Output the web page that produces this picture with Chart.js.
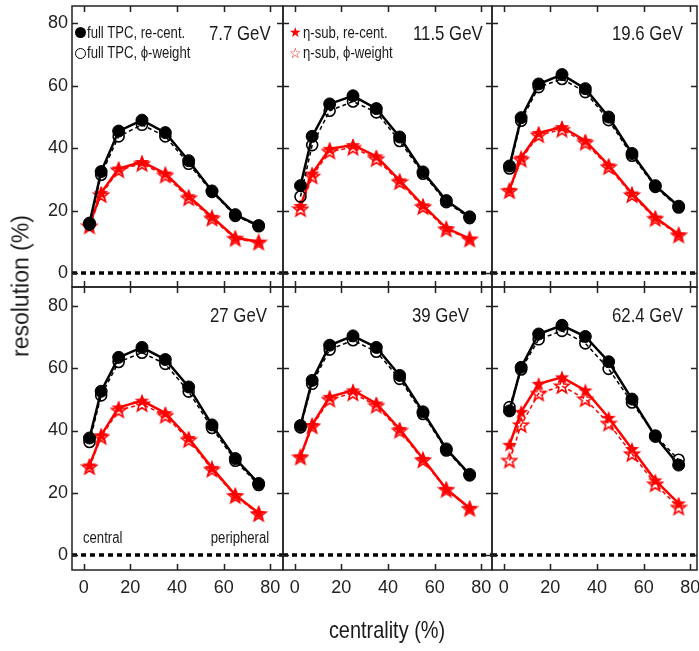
<!DOCTYPE html>
<html>
<head>
<meta charset="utf-8">
<script src="https://cdn.jsdelivr.net/npm/chart.js@4.4.1/dist/chart.umd.min.js"></script>
<style>
body{margin:0;background:#fff;}
#wrap{position:relative;width:699px;height:651px;overflow:hidden;background:#fff;
  font-family:'Liberation Sans',Arial,sans-serif;color:#1a1a1a;}
#wrap canvas{position:absolute;left:0;top:0;}
.t{position:absolute;white-space:nowrap;line-height:1;z-index:5;transform-origin:left top;}
.gev{font-size:21px;transform:scaleX(0.8);}
.leg{font-size:16px;transform:scaleX(0.82);}
.dot{position:absolute;z-index:5;border-radius:50%;box-sizing:border-box;}
.star{position:absolute;z-index:5;line-height:1;font-family:'DejaVu Sans',sans-serif;font-size:14px;color:#ff0000;}
</style>
</head>
<body>
<div id="wrap">
  <div class="t" style="left:21px;top:286px;transform:translate(-50%,-50%) rotate(-90deg);transform-origin:center;font-size:23px;">resolution (%)</div>
  <div class="t" style="left:387px;top:618px;transform:translateX(-50%) scaleX(0.83);transform-origin:center top;font-size:24px;">centrality (%)</div>

  <div class="t gev" style="left:209px;top:22px;">7.7 GeV</div>
  <div class="t gev" style="left:413px;top:22px;">11.5 GeV</div>
  <div class="t gev" style="left:612px;top:22px;">19.6 GeV</div>
  <div class="t gev" style="left:210px;top:304px;">27 GeV</div>
  <div class="t gev" style="left:412px;top:304px;">39 GeV</div>
  <div class="t gev" style="left:612px;top:304px;">62.4 GeV</div>

  <div class="dot" style="left:75px;top:27px;width:11px;height:11px;background:#000;"></div>
  <div class="dot" style="left:75px;top:48px;width:11px;height:11px;border:1.5px solid #000;"></div>
  <div class="t leg" style="left:87px;top:25px;">full TPC, re-cent.</div>
  <div class="t leg" style="left:87px;top:45px;">full TPC, ϕ-weight</div>

  <div class="star" style="left:289px;top:25px;">★</div>
  <div class="star" style="left:289px;top:46px;">☆</div>
  <div class="t leg" style="left:303px;top:25px;">η-sub, re-cent.</div>
  <div class="t leg" style="left:303px;top:45px;">η-sub, ϕ-weight</div>

  <div class="t leg" style="left:83px;top:530px;">central</div>
  <div class="t leg" style="right:430px;top:530px;transform-origin:right top;">peripheral</div>
</div>
<script>
// centrality bin centres (%)
const centrality = [2.5, 7.5, 15, 25, 35, 45, 55, 65, 75];
const energies = ['7.7 GeV', '11.5 GeV', '19.6 GeV', '27 GeV', '39 GeV', '62.4 GeV'];
const xTicks = [0, 20, 40, 60, 80];
const yTicks = [0, 20, 40, 60, 80];

// full TPC, re-centering (filled circles), one row per energy
const tpcRecent = [
  [16.0, 32.5, 45.5, 49.0, 45.0, 36.0, 26.3, 18.7, 15.2],
  [28.0, 43.8, 54.2, 56.8, 52.7, 43.6, 32.4, 23.2, 18.0],
  [34.3, 49.8, 60.6, 63.6, 59.1, 50.0, 38.3, 28.0, 21.4],
  [37.6, 52.6, 63.5, 66.7, 62.8, 54.0, 41.8, 31.0, 23.0],
  [41.6, 56.1, 67.4, 70.4, 66.7, 57.7, 46.0, 34.1, 25.9],
  [46.3, 60.3, 71.0, 73.8, 70.2, 62.1, 50.1, 38.1, 28.9]
];
// full TPC, phi-weight (open circles)
const tpcPhiW = [
  [15.5, 31.5, 43.8, 47.5, 43.8, 35.0, 26.0, 18.3, 15.0],
  [24.5, 41.0, 52.0, 55.0, 51.5, 42.3, 31.8, 22.7, 17.6],
  [33.5, 48.8, 59.6, 62.2, 58.0, 49.0, 37.6, 27.6, 21.0],
  [36.3, 51.3, 62.0, 65.0, 61.4, 52.5, 40.8, 30.3, 22.5],
  [41.0, 55.0, 66.0, 69.0, 65.3, 56.6, 45.3, 33.6, 25.6],
  [47.5, 59.6, 69.3, 72.0, 68.0, 59.8, 49.0, 38.4, 30.6]
];
// eta-sub, re-centering (filled stars)
const etaRecent = [
  [15.5, 25.7, 33.5, 35.6, 31.9, 24.6, 18.0, 11.3, 10.0],
  [21.5, 31.9, 39.8, 41.0, 37.4, 29.7, 21.7, 14.4, 11.0],
  [26.7, 37.0, 44.9, 46.8, 42.4, 34.5, 25.5, 17.8, 12.4],
  [28.8, 38.5, 47.4, 49.6, 45.6, 37.6, 28.0, 19.3, 13.5],
  [31.7, 41.8, 50.8, 52.9, 48.7, 40.5, 30.9, 21.2, 15.1],
  [35.4, 46.0, 55.0, 57.1, 52.9, 44.1, 34.1, 24.0, 16.6]
];
// eta-sub, phi-weight (open stars)
const etaPhiW = [
  [15.0, 25.0, 33.0, 35.0, 31.3, 24.0, 17.5, 11.0, 9.8],
  [20.5, 31.0, 39.0, 40.2, 36.6, 29.2, 21.2, 14.0, 10.8],
  [26.3, 36.4, 44.2, 46.0, 41.8, 34.0, 25.0, 17.4, 12.1],
  [28.3, 38.0, 46.5, 48.5, 44.8, 37.0, 27.5, 19.0, 13.2],
  [31.4, 41.4, 50.0, 52.0, 48.0, 40.0, 30.5, 21.0, 14.9],
  [30.4, 41.8, 51.9, 54.3, 50.1, 42.3, 32.5, 22.8, 15.3]
];

const RED = '#ff0000';
const W = 699, H = 651;
// panel boxes in page pixels
const cols = [[72, 283], [283, 492], [492, 697]];
const rows = [[6, 287], [287, 570]];
const yRange = [[-4.5, 85.6], [-4.8, 86.1]];
const pxPerX = 2.333;

function makeStar(filled) {
  const c = document.createElement('canvas');
  c.width = 18; c.height = 18;
  const g = c.getContext('2d');
  g.beginPath();
  for (let i = 0; i < 10; i++) {
    const r = i % 2 ? 3.2 : 7.6;
    const a = -Math.PI / 2 + i * Math.PI / 5;
    g.lineTo(9 + r * Math.cos(a), 9.6 + r * Math.sin(a));
  }
  g.closePath();
  if (filled) { g.fillStyle = RED; g.fill(); }
  else { g.strokeStyle = RED; g.lineWidth = 1.6; g.stroke(); }
  return c;
}
const starFull = makeStar(true);
const starOpen = makeStar(false);

// frame, inward ticks and dashed zero line
const framePlugin = {
  id: 'frame',
  beforeDatasetsDraw(chart) {
    const { ctx, chartArea: a, scales: { y } } = chart;
    const y0 = y.getPixelForValue(0);
    ctx.save();
    ctx.beginPath();
    ctx.setLineDash([5, 4]);
    ctx.lineWidth = 3.5;
    ctx.strokeStyle = '#000';
    ctx.moveTo(a.left, y0); ctx.lineTo(a.right, y0);
    ctx.stroke();
    ctx.restore();
  },
  afterDraw(chart) {
    const { ctx, chartArea: a, scales: { x, y } } = chart;
    ctx.save();
    ctx.strokeStyle = '#222';
    ctx.lineWidth = 1.5;
    ctx.strokeRect(a.left, a.top, a.right - a.left, a.bottom - a.top);
    ctx.beginPath();
    xTicks.forEach(v => {
      const px = Math.round(x.getPixelForValue(v)) + 0.5;
      ctx.moveTo(px, a.bottom); ctx.lineTo(px, a.bottom - 6);
      ctx.moveTo(px, a.top); ctx.lineTo(px, a.top + 6);
    });
    yTicks.forEach(v => {
      const py = Math.round(y.getPixelForValue(v)) + 0.5;
      ctx.moveTo(a.left, py); ctx.lineTo(a.left + 6, py);
      ctx.moveTo(a.right, py); ctx.lineTo(a.right - 6, py);
    });
    ctx.stroke();
    ctx.restore();
  }
};

const wrap = document.getElementById('wrap');
const tickFont = { family: "'Liberation Sans',Arial,sans-serif", size: 18 };

energies.forEach((e, i) => {
  const col = i % 3, row = Math.floor(i / 3);
  const [l, r] = cols[col];
  const [t, b] = rows[row];
  const leftCol = col === 0, bottomRow = row === 1;
  const yW = leftCol ? 40 : 0;
  const xH = bottomRow ? 36 : 0;

  const cv = document.createElement('canvas');
  cv.width = W; cv.height = H;
  cv.style.width = W + 'px'; cv.style.height = H + 'px';
  wrap.appendChild(cv);

  const pts = arr => centrality.map((c, k) => ({ x: c, y: arr[i][k] }));

  new Chart(cv, {
    type: 'line',
    data: {
      datasets: [
        { label: 'full TPC, re-cent.', data: pts(tpcRecent), borderColor: '#000', backgroundColor: '#000',
          borderWidth: 2.5, pointRadius: 6, pointBorderWidth: 1, pointStyle: 'circle' },
        { label: 'full TPC, phi-weight', data: pts(tpcPhiW), borderColor: '#000', backgroundColor: 'rgba(255,255,255,0)',
          borderWidth: 1.5, borderDash: [4, 3], pointRadius: 5.5, pointBorderWidth: 1.6, pointStyle: 'circle' },
        { label: 'eta-sub, re-cent.', data: pts(etaRecent), borderColor: RED, backgroundColor: RED,
          borderWidth: 2.5, pointStyle: starFull },
        { label: 'eta-sub, phi-weight', data: pts(etaPhiW), borderColor: RED, backgroundColor: RED,
          borderWidth: 1.5, borderDash: [4, 3], pointStyle: starOpen }
      ]
    },
    options: {
      responsive: false,
      animation: false,
      devicePixelRatio: 1,
      layout: { autoPadding: false, padding: { left: l - yW, right: W - r, top: t, bottom: H - b - xH } },
      plugins: { legend: { display: false }, tooltip: { enabled: false } },
      scales: {
        x: {
          type: 'linear',
          min: -5,
          max: -5 + (r - l) / pxPerX,
          afterBuildTicks: s => { s.ticks = xTicks.map(v => ({ value: v })); },
          afterFit: s => { s.height = xH; s.paddingLeft = 0; s.paddingRight = 0; },
          grid: { display: false, drawTicks: false },
          border: { display: false },
          ticks: { display: bottomRow, font: tickFont, color: '#222', padding: 7, maxRotation: 0 }
        },
        y: {
          min: yRange[row][0],
          max: yRange[row][1],
          afterBuildTicks: s => { s.ticks = yTicks.map(v => ({ value: v })); },
          afterFit: s => { s.width = yW; s.paddingTop = 0; s.paddingBottom = 0; },
          grid: { display: false, drawTicks: false },
          border: { display: false },
          ticks: { display: leftCol, font: tickFont, color: '#222', padding: 4 }
        }
      }
    },
    plugins: [framePlugin]
  });
});
</script>
</body>
</html>
